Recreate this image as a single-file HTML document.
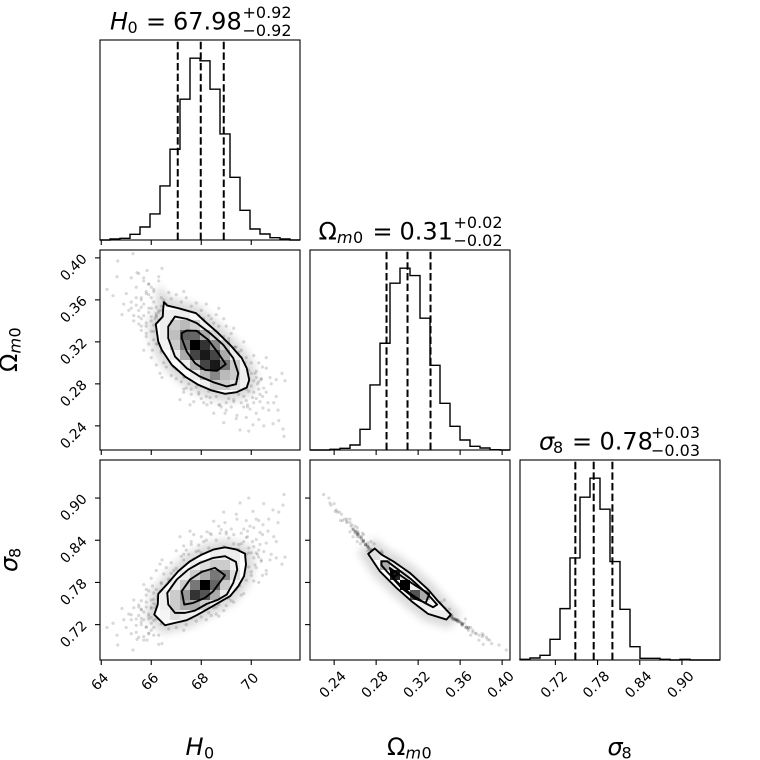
<!DOCTYPE html>
<html>
<head>
<meta charset="utf-8">
<title>Corner plot</title>
<style>
html,body{margin:0;padding:0;background:#fff;width:760px;height:760px;overflow:hidden}
svg{display:block}
text{font-family:"DejaVu Sans","Liberation Sans",sans-serif;fill:#000}
.it{font-style:italic}
</style>
</head>
<body>
<svg id="chart" width="760" height="760" viewBox="0 0 760 760" xmlns="http://www.w3.org/2000/svg">
<defs id="defs"><filter id="soft" x="-30%" y="-30%" width="160%" height="160%"><feGaussianBlur stdDeviation="4"></feGaussianBlur></filter></defs>
<g id="plot"></g>

<g>
<text class="it" x="110" y="29.5" font-size="24">H</text><text x="127.5" y="33" font-size="16">0</text><text x="146" y="29.5" font-size="24">=</text><text x="173" y="29.5" font-size="24">67.98</text><text x="242.5" y="18" font-size="16">+0.92</text><text x="242.5" y="36" font-size="16">−0.92</text>
</g>
<g>
<text x="318.5" y="239.5" font-size="24">Ω</text><text class="it" x="337" y="243" font-size="16">m</text><text x="353" y="243" font-size="16">0</text><text x="372.5" y="239.5" font-size="24">=</text><text x="399.5" y="239.5" font-size="24">0.31</text><text x="453.5" y="228" font-size="16">+0.02</text><text x="453.5" y="246" font-size="16">−0.02</text>
</g>
<g>
<text class="it" x="539" y="449.5" font-size="24">σ</text><text x="553" y="453" font-size="16">8</text><text x="572" y="449.5" font-size="24">=</text><text x="599.5" y="449.5" font-size="24">0.78</text><text x="651" y="438" font-size="16">+0.03</text><text x="651" y="456" font-size="16">−0.03</text>
</g>

<g><text class="it" x="185.5" y="755" font-size="24">H</text><text x="204" y="758.5" font-size="16">0</text></g>
<g><text x="387" y="755" font-size="24">Ω</text><text class="it" x="405.5" y="758.5" font-size="16">m</text><text x="421.5" y="758.5" font-size="16">0</text></g>
<g><text class="it" x="607.5" y="755" font-size="24">σ</text><text x="621.5" y="758.5" font-size="16">8</text></g>

<g transform="translate(17 372) rotate(-90)"><text x="0" y="0" font-size="24">Ω</text><text class="it" x="18.5" y="3.5" font-size="16">m</text><text x="34.5" y="3.5" font-size="16">0</text></g>
<g transform="translate(17 572) rotate(-90)"><text class="it" x="0" y="0" font-size="24">σ</text><text x="14" y="3.5" font-size="16">8</text></g>
</svg>

<script>
// ---------- axis ranges and ticks ----------
const rangeH0 = [63.95, 71.95];
const rangeOm = [0.2170, 0.4075];
const rangeS8 = [0.6697, 0.9541];
const ticksH0 = [64, 66, 68, 70];
const ticksOm = [0.24, 0.28, 0.32, 0.36, 0.40];
const ticksS8 = [0.72, 0.78, 0.84, 0.90];
const labelsH0 = ['64', '66', '68', '70'];
const labelsOm = ['0.24', '0.28', '0.32', '0.36', '0.40'];
const labelsS8 = ['0.72', '0.78', '0.84', '0.90'];

// ---------- 1-D histograms (20 bins) ----------
const histH0 = [0, 3, 5, 17, 39, 78, 162, 272, 422, 545, 537, 452, 318, 188, 89, 33, 18, 7, 3, 0];
const histOm = [0, 0, 2, 5, 15, 62, 195, 320, 500, 545, 523, 395, 254, 140, 71, 30, 11, 6, 1, 0];
const histS8 = [2, 6, 14, 62, 154, 306, 488, 545, 452, 295, 152, 40, 5, 5, 2, 0, 2, 0, 0, 0];

// ---------- quantiles (16, 50, 84 %) ----------
const quantH0 = [67.06, 67.98, 68.90];
const quantOm = [0.2899, 0.3099, 0.3318];
const quantS8 = [0.7484, 0.7745, 0.8011];

// ---------- posterior samples (same row across the three arrays) ----------
const samplesH0 = [
64.66,65.27,64.47,64.23,64.63,65.20,64.83,66.43,65.83,65.43,
65.0,65.4,65.6,65.9,66.1,65.2,64.9,65.5,66.3,65.7,
65.5,65.6,65.7,65.8,65.9,66.0,66.1,66.2,66.3,66.4,
65.6,65.8,66.0,66.2,66.4,66.5,66.6,65.9,66.1,66.3,
66.0,66.2,66.35,66.5,66.1,66.3,66.45,66.25,66.15,66.4,
65.7,66.0,66.2,66.4,66.5,66.6,66.7,66.8,66.55,66.9,
66.8,67.0,67.2,67.4,67.6,67.8,68.0,68.2,67.3,67.9,
68.3,68.5,68.7,68.9,69.1,69.3,69.5,69.7,68.6,69.0,
69.2,69.4,69.6,69.8,70.0,70.2,70.4,70.6,70.8,71.0,
69.5,69.7,69.9,70.0,70.1,70.2,70.3,70.4,69.8,70.05,
69.6,69.85,70.1,70.25,69.95,70.15,70.35,70.5,69.7,70.45,
71.35,71.23,70.75,71.07,70.47,70.87,71.27,71.31,70.07,69.55,
70.67,70.35,69.43,68.95,68.75,68.23,67.55,67.15,66.35,66.43,
66.6,66.8,67.0,67.2,67.4,67.6,67.8,68.0,68.2,68.4,
68.6,68.8,69.0,69.2,69.4,68.5,68.9,67.3,66.9,67.7,
68.9,69.1,69.3,68.6,68.3,68.0,67.9,67.7,67.5,69.5,
66.2,66.5,66.7,66.9,67.1,67.3,66.4,66.0,65.8,66.6,
65.3,65.5,65.7,65.9,66.1,66.3,65.4,65.6,65.8,66.0,
65.2,65.4,65.6,65.8,66.0,66.2,65.1,65.9,66.5,66.7,
69.9,70.1,70.3,69.7,69.5,69.3,69.1,68.9,68.7,68.5,
70.9,71.1,70.6,70.2,69.8,70.5,71.0,70.3,69.9,70.7,
66.3,66.6,66.2,66.7,66.9,67.1,66.5,66.8,67.0,66.35,
68.1,68.4,68.8,69.1,69.35,69.55,69.75,68.6,69.0,69.6,
67.0,67.3,67.6,67.9,68.1,68.35,68.7,69.0,69.3,69.8,
69.9,70.0,70.2,69.75,70.1,70.3,69.6,69.85,70.45,70.6,
65.5,65.7,65.9,66.1,66.3,65.3,65.6,65.8,66.05,66.25];
const samplesOm = [
.397,.404,.364,.370,.382,.381,.346,.390,.388,.386,
.366,.372,.360,.375,.368,.352,.356,.344,.378,.381,
.350,.342,.356,.335,.348,.362,.330,.353,.341,.362,
.331,.325,.344,.338,.350,.345,.356,.318,.322,.328,
.352,.345,.334,.358,.336,.348,.342,.330,.342,.354,
.312,.305,.318,.310,.322,.316,.308,.300,.327,.312,
.361,.365,.358,.362,.354,.357,.350,.356,.368,.345,
.345,.338,.335,.325,.323,.315,.310,.296,.346,.335,
.328,.315,.305,.305,.300,.292,.285,.295,.280,.284,
.270,.268,.273,.278,.272,.266,.275,.284,.264,.267,
.262,.260,.283,.280,.256,.290,.270,.276,.258,.296,
.283,.290,.286,.255,.257,.242,.237,.230,.241,.236,
.262,.263,.250,.252,.260,.260,.260,.265,.290,.286,
.296,.288,.294,.282,.276,.270,.277,.266,.268,.262,
.268,.258,.262,.258,.247,.252,.243,.272,.305,.263,
.272,.266,.263,.276,.273,.278,.270,.283,.280,.274,
.298,.300,.304,.296,.300,.286,.312,.330,.338,.320,
.340,.337,.345,.352,.358,.350,.355,.362,.368,.340,
.358,.362,.353,.366,.372,.347,.350,.375,.360,.367,
.293,.307,.282,.320,.305,.333,.318,.342,.352,.328,
.262,.245,.272,.252,.248,.240,.268,.246,.235,.255,
.331,.340,.344,.326,.322,.318,.337,.350,.330,.316,
.342,.342,.322,.320,.315,.305,.300,.330,.315,.312,
.285,.275,.275,.272,.262,.267,.260,.255,.265,.275,
.285,.290,.286,.280,.262,.300,.278,.258,.268,.305,
.385,.378,.365,.370,.382,.345,.335,.328,.312,.318];
const samplesS8 = [
.691,.684,.722,.716,.705,.707,.743,.693,.698,.699,
.716,.709,.724,.708,.716,.734,.727,.745,.705,.703,
.733,.741,.727,.752,.735,.722,.756,.728,.742,.721,
.754,.762,.743,.748,.733,.738,.727,.768,.765,.758,
.730,.737,.750,.724,.750,.734,.741,.756,.744,.727,
.777,.786,.770,.780,.765,.772,.782,.793,.760,.776,
.722,.716,.725,.720,.729,.725,.731,.727,.712,.738,
.737,.744,.748,.759,.761,.771,.777,.795,.735,.747,
.754,.770,.783,.783,.790,.801,.810,.797,.820,.815,
.834,.838,.829,.822,.831,.841,.826,.812,.844,.838,
.850,.853,.815,.820,.860,.805,.834,.824,.856,.790,
.816,.806,.812,.865,.862,.883,.890,.905,.881,.893,
.853,.851,.870,.865,.850,.852,.853,.845,.806,.812,
.801,.808,.800,.817,.826,.834,.824,.845,.840,.848,
.840,.855,.849,.856,.877,.867,.880,.832,.785,.848,
.831,.843,.848,.826,.829,.822,.833,.813,.820,.827,
.797,.792,.785,.797,.790,.812,.778,.755,.745,.765,
.744,.748,.738,.732,.726,.733,.728,.720,.716,.745,
.727,.719,.729,.717,.712,.733,.735,.707,.724,.714,
.802,.782,.816,.764,.784,.752,.770,.740,.732,.756,
.845,.880,.836,.870,.868,.892,.838,.868,.900,.870,
.748,.750,.735,.765,.760,.778,.741,.742,.766,.768,
.752,.733,.775,.757,.780,.775,.800,.745,.778,.762,
.825,.820,.838,.825,.838,.850,.860,.852,.835,.820,
.822,.795,.822,.808,.858,.780,.835,.845,.848,.792,
.702,.698,.728,.705,.692,.755,.742,.770,.775,.760];

// ---------- 2-D density, percent darkness; start bins then rows ----------
const densOmH0Start = [6, 6];
const densOmH0 = [
[7,7,7,3,0,0,0,0,0],
[7,20,27,18,6,0,0,0,0],
[7,25,62,60,33,15,4,0,0],
[5,20,53,100,80,47,20,4,0],
[0,7,33,73,90,73,33,7,0],
[0,0,7,33,73,90,55,20,5],
[0,0,0,7,27,47,27,20,7],
[0,0,0,0,6,20,20,13,5],
[0,0,0,0,0,0,2,2,0]];
const densS8H0Start = [6, 8];
const densS8H0 = [
[0,0,0,0,0,0,3,3,0],
[0,0,0,0,0,7,7,7,0],
[0,0,0,7,13,20,20,6,0],
[0,0,7,20,33,53,47,13,0],
[0,7,20,53,100,60,20,4,0],
[6,20,40,80,67,33,9,0,0],
[7,20,33,33,20,7,0,0,0],
[4,13,7,6,0,0,0,0,0]];
const densS8OmStart = [6, 9];
const densS8Om = [
[12,5,0,0,0,0,0,0],
[0,33,7,0,0,0,0,0],
[0,0,87,13,0,0,0,0],
[0,0,0,100,7,0,0,0],
[0,0,0,0,67,33,0,0],
[0,0,0,0,0,7,3,0],
[0,0,0,0,0,0,7,7]];

// ---------- contour levels, traced as [x value, y value] ----------
const contOmH0Outer = [[66.51,.3578],[66.64,.3546],[67.08,.3521],[67.79,.3473],[68.15,.3394],[68.68,.3283],[69.15,.3172],[69.62,.3045],[69.82,.2949],[69.92,.2838],[69.82,.2765],[69.42,.2721],[68.95,.2705],[68.42,.2737],[67.88,.2791],[67.35,.2870],[66.82,.2981],[66.42,.3124],[66.28,.3203],[66.18,.3368],[66.46,.3441],[66.48,.3521]];
const contOmH0Mid = [[66.95,.3441],[67.42,.3419],[67.82,.3378],[68.35,.3283],[68.88,.3172],[69.28,.3045],[69.48,.2902],[69.39,.2797],[69.02,.2775],[68.48,.2816],[67.95,.2870],[67.42,.2949],[66.95,.3060],[66.68,.3235],[66.68,.3346]];
const contOmH0Inner = [[67.22,.3283],[67.42,.3308],[67.82,.3305],[68.28,.3219],[68.68,.3092],[68.98,.2987],[68.62,.2924],[68.15,.2933],[67.75,.2997],[67.42,.3108],[67.22,.3235]];
const contS8H0Outer = [[66.55,.7191],[66.95,.7225],[67.42,.7263],[67.82,.7334],[68.22,.7414],[68.68,.7509],[69.15,.7604],[69.48,.7746],[69.71,.7888],[69.79,.8054],[69.75,.8210],[69.42,.8267],[68.95,.8300],[68.48,.8267],[68.02,.8196],[67.55,.8101],[67.08,.7959],[66.68,.7793],[66.28,.7637],[66.26,.7485],[66.12,.7343]];
const contS8H0Mid = [[66.95,.7367],[67.35,.7367],[67.75,.7400],[68.22,.7495],[68.68,.7556],[69.02,.7627],[69.28,.7793],[69.44,.7983],[69.39,.8092],[68.95,.8173],[68.48,.8149],[67.95,.8078],[67.48,.7983],[67.02,.7841],[66.64,.7651],[66.68,.7485]];
const contS8H0Inner = [[67.32,.7485],[67.68,.7509],[68.15,.7580],[68.48,.7675],[68.95,.7902],[68.55,.8007],[68.02,.7950],[67.55,.7841],[67.22,.7675]];
const contS8OmOuter = [[.2787,.8282],[.2724,.8206],[.2835,.7959],[.2994,.7722],[.3137,.7533],[.3295,.7353],[.3470,.7272],[.3511,.7343],[.3390,.7533],[.3295,.7699],[.3121,.7936],[.2962,.8101],[.2851,.8196]];
const contS8OmMid = [[.2851,.8101],[.2905,.8101],[.3010,.7983],[.3137,.7841],[.3295,.7627],[.3381,.7485],[.3343,.7447],[.3263,.7509],[.3137,.7627],[.3010,.7793],[.2914,.7936],[.2851,.8045]];
const contS8OmInner = [[.2930,.8007],[.3057,.7874],[.3184,.7746],[.3305,.7637],[.3273,.7509],[.3168,.7571],[.3041,.7722],[.2962,.7855]];
const contS8OmSpot = [[.2959,.7950],[.2994,.7950],[.3003,.7912],[.2978,.7883],[.2955,.7912]];

// ---------- layout ----------
const NS = 'http://www.w3.org/2000/svg';
const plot = document.getElementById('plot');
const defs = document.getElementById('defs');
const colLeft = [100, 310, 520];
const rowTop = [40, 250, 460];
const SIZE = 200;
const BINS = 20;

function mk(tag, attrs, parent) {
  const el = document.createElementNS(NS, tag);
  for (const k in attrs) el.setAttribute(k, attrs[k]);
  parent.appendChild(el);
  return el;
}
function xAxis(range, col) {
  return v => colLeft[col] + (v - range[0]) / (range[1] - range[0]) * SIZE;
}
function yAxis(range, row) {
  return v => rowTop[row] + SIZE - (v - range[0]) / (range[1] - range[0]) * SIZE;
}
function drawBorder(g, col, row) {
  const el = mk('rect', {x: colLeft[col], y: rowTop[row], width: SIZE, height: SIZE, fill: 'none', stroke: '#000', 'stroke-width': 1.1}, g);
  
  
}
function drawXTicks(g, ticks, range, col, row, labels) {
  const x = xAxis(range, col);
  const base = rowTop[row] + SIZE;
  ticks.forEach((t, k) => {
    const tick = mk('line', {x1: x(t), x2: x(t), y1: base, y2: base + 5, stroke: '#000', 'stroke-width': 1.1}, g);
    
    
    if (labels) {
      const cx = x(t) - 1;
      const cy = base + (labels[k].length > 2 ? 25 : 22);
      const txt = mk('text', {x: cx, y: cy, 'font-size': 13.9, 'text-anchor': 'middle', 'dominant-baseline': 'central', transform: 'rotate(-45 ' + cx + ' ' + cy + ')'}, g);
      txt.textContent = labels[k];
      
      
    }
  });
}
function drawYTicks(g, ticks, range, col, row, labels) {
  const y = yAxis(range, row);
  const left = colLeft[col];
  ticks.forEach((t, k) => {
    const tick = mk('line', {x1: left - 5, x2: left, y1: y(t), y2: y(t), stroke: '#000', 'stroke-width': 1.1}, g);
    
    
    if (labels) {
      const cx = 74;
      const cy = y(t) + 10;
      const txt = mk('text', {x: cx, y: cy, 'font-size': 13.9, 'text-anchor': 'middle', 'dominant-baseline': 'central', transform: 'rotate(-45 ' + cx + ' ' + cy + ')'}, g);
      txt.textContent = labels[k];
      
      
    }
  });
}
function drawHist(name, values, quants, range, col, row, ticks, labels) {
  const g = mk('g', {}, plot);
  
  
  const x = xAxis(range, col);
  const peak = Math.max.apply(null, values) * 1.1;
  const y = yAxis([0, peak], row);
  const w = (range[1] - range[0]) / BINS;
  let pts = x(range[0]) + ',' + y(0);
  values.forEach((v, i) => {
    pts += ' ' + x(range[0] + i * w) + ',' + y(v) + ' ' + x(range[0] + (i + 1) * w) + ',' + y(v);
  });
  pts += ' ' + x(range[1]) + ',' + y(0);
  const line = mk('polyline', {points: pts, fill: 'none', stroke: '#000', 'stroke-width': 1.4}, g);
  
  
  quants.forEach(q => {
    const d = mk('line', {x1: x(q), x2: x(q), y1: rowTop[row] + SIZE, y2: rowTop[row], stroke: '#000', 'stroke-width': 2, 'stroke-dasharray': '7.4 3.2'}, g);
    
    
  });
  drawBorder(g, col, row);
  drawXTicks(g, ticks, range, col, row, labels);
}
function drawPanel(name, xs, ys, xr, yr, col, row, dens, start, contours, xt, yt, xl, yl) {
  const g = mk('g', {}, plot);
  
  
  const x = xAxis(xr, col);
  const y = yAxis(yr, row);
  const clipId = name + '-box';
  const clipBox = mk('clipPath', {id: clipId}, defs);
  mk('rect', {x: colLeft[col], y: rowTop[row], width: SIZE, height: SIZE}, clipBox);
  const toPts = arr => arr.map(p => x(p[0]) + ',' + y(p[1])).join(' ');
  const outerPts = toPts(contours[0]);
  const halo = mk('polygon', {points: outerPts, fill: 'none', stroke: '#000', 'stroke-width': 16, 'stroke-opacity': 0.14, filter: 'url(#soft)'}, g);
  
  
  const pts = mk('g', {'clip-path': 'url(#' + clipId + ')'}, g);
  
  
  xs.forEach((v, k) => {
    const c = mk('circle', {cx: x(v), cy: y(ys[k]), r: 1.6, fill: '#000', 'fill-opacity': 0.15}, pts);
    
    
  });
  const fill = mk('polygon', {points: outerPts, fill: '#fff'}, g);
  
  
  const clipOuter = name + '-outer';
  const cp = mk('clipPath', {id: clipOuter}, defs);
  mk('polygon', {points: outerPts}, cp);
  const cells = mk('g', {'clip-path': 'url(#' + clipOuter + ')', 'shape-rendering': 'crispEdges'}, g);
  
  
  const wx = (xr[1] - xr[0]) / BINS;
  const wy = (yr[1] - yr[0]) / BINS;
  dens.forEach((r, j) => {
    r.forEach((d, i) => {
      if (!d) return;
      const ci = start[0] + i;
      const cj = start[1] + j;
      const x0 = x(xr[0] + ci * wx);
      const x1 = x(xr[0] + (ci + 1) * wx);
      const y0 = y(yr[1] - cj * wy);
      const y1 = y(yr[1] - (cj + 1) * wy);
      const lvl = Math.round(255 * (1 - d / 100));
      const cell = mk('rect', {x: x0, y: y0, width: x1 - x0, height: y1 - y0, fill: 'rgb(' + lvl + ',' + lvl + ',' + lvl + ')'}, cells);
      
      
    });
  });
  contours.forEach(c => {
    const poly = mk('polygon', {points: toPts(c), fill: 'none', stroke: '#000', 'stroke-width': 1.9, 'stroke-linejoin': 'round'}, g);
    
    
  });
  drawBorder(g, col, row);
  drawXTicks(g, xt, xr, col, row, xl);
  drawYTicks(g, yt, yr, col, row, yl);
}

drawHist('histogram-h0', histH0, quantH0, rangeH0, 0, 0, ticksH0, null);
drawHist('histogram-omega-m0', histOm, quantOm, rangeOm, 1, 1, ticksOm, null);
drawHist('histogram-sigma-8', histS8, quantS8, rangeS8, 2, 2, ticksS8, labelsS8);
drawPanel('panel-omega-vs-h0', samplesH0, samplesOm, rangeH0, rangeOm, 0, 1, densOmH0, densOmH0Start,
  [contOmH0Outer, contOmH0Mid, contOmH0Inner], ticksH0, ticksOm, null, labelsOm);
drawPanel('panel-sigma-vs-h0', samplesH0, samplesS8, rangeH0, rangeS8, 0, 2, densS8H0, densS8H0Start,
  [contS8H0Outer, contS8H0Mid, contS8H0Inner], ticksH0, ticksS8, labelsH0, labelsS8);
drawPanel('panel-sigma-vs-omega', samplesOm, samplesS8, rangeOm, rangeS8, 1, 2, densS8Om, densS8OmStart,
  [contS8OmOuter, contS8OmMid, contS8OmInner, contS8OmSpot], ticksOm, ticksS8, labelsOm, null);
</script>
</body>
</html>
